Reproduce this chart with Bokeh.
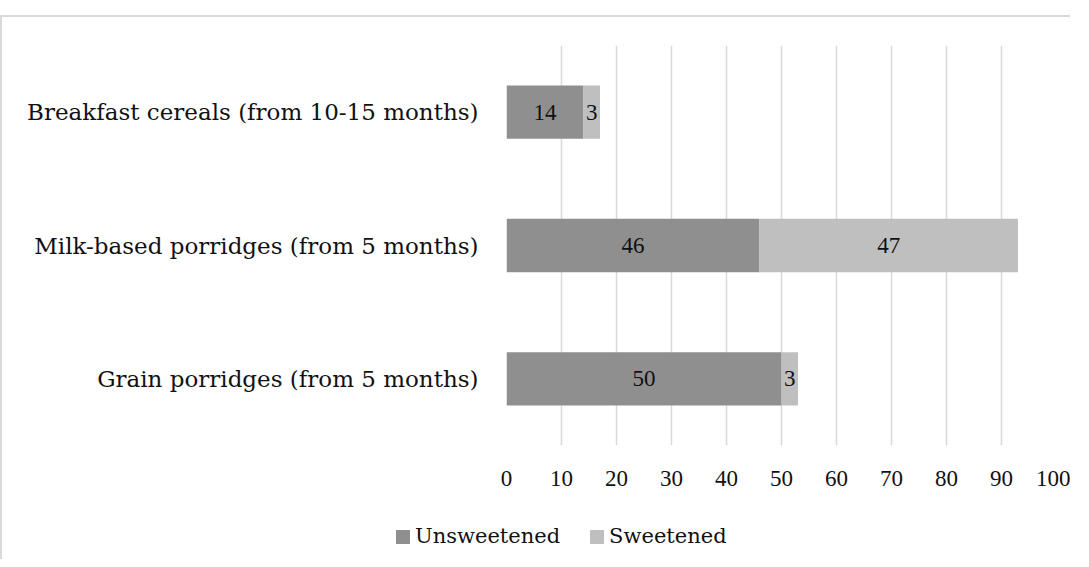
from bokeh.plotting import figure
from bokeh.models import ColumnDataSource, FixedTicker, Range1d, LabelSet, Div
from bokeh.layouts import column
from bokeh.core.properties import value
from bokeh.embed import file_html
from bokeh.resources import INLINE

categories = ["Grain porridges (from 5 months)",
              "Milk-based porridges (from 5 months)",
              "Breakfast cereals (from 10-15 months)"]
unsweetened = [50, 46, 14]
sweetened = [3, 47, 3]
x_ticks = [0, 10, 20, 30, 40, 50, 60, 70, 80, 90, 100]
series_names = ["Unsweetened", "Sweetened"]
colors = ["#8f8f8f", "#bfbfbf"]

TEXT_FONT = "DejaVu Serif"
NUM_FONT = "Liberation Serif"
BORDER = "2px solid #d9d9d9"

src = ColumnDataSource(dict(
    cat=categories,
    Unsweetened=unsweetened,
    Sweetened=sweetened,
    u_mid=[u / 2 for u in unsweetened],
    s_mid=[u + s / 2 for u, s in zip(unsweetened, sweetened)],
    u_lab=[str(u) for u in unsweetened],
    s_lab=[str(s) for s in sweetened],
))

p = figure(y_range=categories, x_range=Range1d(0, 100),
           width=1070, height=490, output_backend="svg", toolbar_location=None,
           min_border_left=504, min_border_right=16, min_border_top=28, min_border_bottom=62)
p.styles = {"border-left": BORDER, "border-top": BORDER}
p.outline_line_color = None

rs = p.hbar_stack(series_names, y="cat", height=0.4, color=colors, source=src, line_color=None)

for xcol, tcol in (("u_mid", "u_lab"), ("s_mid", "s_lab")):
    p.add_layout(LabelSet(x=xcol, y="cat", text=tcol, source=src,
                          text_align="center", text_baseline="middle",
                          text_font=value(NUM_FONT), text_font_size="23px", text_color="#111111"))

p.xaxis.ticker = FixedTicker(ticks=x_ticks)
p.xgrid.ticker = FixedTicker(ticks=x_ticks)
p.xgrid.grid_line_color = "#d9d9d9"
p.xgrid.grid_line_width = 1.5
p.ygrid.grid_line_color = None

for ax in (p.xaxis[0], p.yaxis[0]):
    ax.axis_line_color = None
    ax.major_tick_line_color = None
    ax.minor_tick_line_color = None
    ax.major_label_text_color = "#111111"
p.xaxis.major_label_text_font = NUM_FONT
p.xaxis.major_label_text_font_size = "23px"
p.yaxis.major_label_text_font = TEXT_FONT
p.yaxis.major_label_text_font_size = "23px"
p.xaxis.major_label_standoff = 19
p.yaxis.major_label_standoff = 22

# legend strip below the chart (HTML legend built from the series lists)
items_html = "".join(
    f'<span style="display:inline-block;width:14px;height:14px;background:{c};'
    f'margin-right:5px;vertical-align:-1px;"></span>'
    f'<span style="margin-right:30px;">{n}</span>'
    for n, c in zip(series_names, colors))
legend_div = Div(
    text=f'<div style="padding-left:394px;padding-top:19px;font-family:\'{TEXT_FONT}\';'
         f'font-size:21px;line-height:25px;color:#111111;white-space:nowrap;">{items_html}</div>',
    width=1070, height=54, margin=0, styles={"border-left": BORDER})

top_gap = Div(text="", width=1070, height=15, margin=0)

layout = column(top_gap, p, legend_div, spacing=0)
open("out.html", "w").write(file_html(layout, INLINE))
